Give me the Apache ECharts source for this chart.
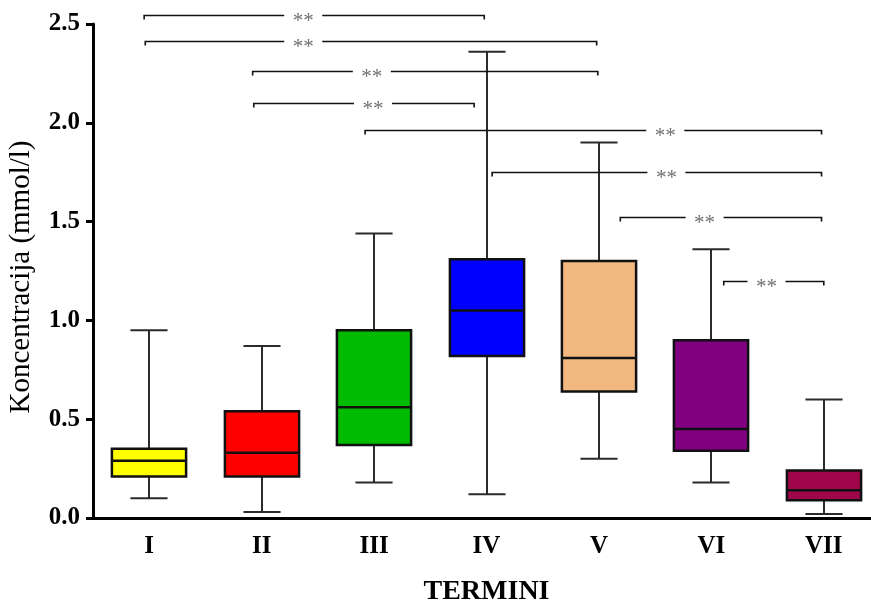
<!DOCTYPE html>
<html>
<head>
<meta charset="utf-8">
<script src="https://cdn.jsdelivr.net/npm/echarts@6/dist/echarts.min.js"></script>
<style>
  html, body { margin: 0; padding: 0; background: #fff; overflow: hidden; }
  #chart { width: 871px; height: 601px; }
</style>
</head>
<body>
<div id="chart"></div>
<script>
// Sampling periods
const termini = ['I', 'II', 'III', 'IV', 'V', 'VI', 'VII'];

// Five-number summaries per period (mmol/l)
const whiskerLow  = [0.10, 0.03, 0.18, 0.12, 0.30, 0.18, 0.02];
const quartile1   = [0.21, 0.21, 0.37, 0.82, 0.64, 0.34, 0.09];
const medians     = [0.29, 0.33, 0.56, 1.05, 0.81, 0.45, 0.14];
const quartile3   = [0.35, 0.54, 0.95, 1.31, 1.30, 0.90, 0.24];
const whiskerHigh = [0.95, 0.87, 1.44, 2.36, 1.90, 1.36, 0.60];

// Fill colour of each box
const boxColors = ['#ffff00', '#ff0000', '#00bb00', '#0000ff', '#f2b880', '#800080', '#a0064a'];

// Significance brackets: start / end position on the period axis (index units), bracket level, mark
const bracketStart = [-0.045, -0.035, 0.92, 0.93, 1.92, 3.05, 4.19, 5.11];
const bracketEnd   = [2.98, 3.98, 3.99, 2.89, 5.98, 5.98, 5.98, 6.00];
const bracketLevel = [2.547, 2.414, 2.262, 2.099, 1.965, 1.751, 1.525, 1.199];
const bracketMark  = ['**', '**', '**', '**', '**', '**', '**', '**'];
// where along each bracket the mark sits (index units)
const bracketMarkAt = [1.37, 1.37, 1.98, 1.99, 4.59, 4.60, 4.94, 5.49];

const boxData = termini.map((t, i) => [i, whiskerLow[i], quartile1[i], medians[i], quartile3[i], whiskerHigh[i]]);
const bracketData = bracketLevel.map((lv, i) => [bracketStart[i], bracketEnd[i], lv, bracketMarkAt[i]]);

const serif = '"Liberation Serif", "Times New Roman", serif';

function renderBox(params, api) {
  const i = api.value(0);
  const band = api.size([1, 0])[0];
  const boxW = band * 0.66;
  const capW = boxW * 0.5;
  const pLow = api.coord([i, api.value(1)]);
  const pQ1 = api.coord([i, api.value(2)]);
  const pMed = api.coord([i, api.value(3)]);
  const pQ3 = api.coord([i, api.value(4)]);
  const pHigh = api.coord([i, api.value(5)]);
  const cx = Math.round(pMed[0]);
  const wStyle = { stroke: '#2b2b2b', lineWidth: 2, fill: null };
  return {
    type: 'group',
    children: [
      { type: 'line', shape: { x1: cx, y1: pQ3[1], x2: cx, y2: pHigh[1] }, style: wStyle },
      { type: 'line', shape: { x1: cx, y1: pQ1[1], x2: cx, y2: pLow[1] }, style: wStyle },
      { type: 'line', shape: { x1: cx - capW / 2, y1: pHigh[1], x2: cx + capW / 2, y2: pHigh[1] }, style: wStyle },
      { type: 'line', shape: { x1: cx - capW / 2, y1: pLow[1], x2: cx + capW / 2, y2: pLow[1] }, style: wStyle },
      { type: 'rect', shape: { x: cx - boxW / 2, y: pQ3[1], width: boxW, height: pQ1[1] - pQ3[1] },
        style: { fill: boxColors[i], stroke: '#111', lineWidth: 2.5 } },
      { type: 'line', shape: { x1: cx - boxW / 2, y1: pMed[1], x2: cx + boxW / 2, y2: pMed[1] },
        style: { stroke: '#111', lineWidth: 2.5 } }
    ]
  };
}

function renderBracket(params, api) {
  const a = api.coord([api.value(0), api.value(2)]);
  const b = api.coord([api.value(1), api.value(2)]);
  const m = api.coord([api.value(3), api.value(2)]);
  const y = Math.round(a[1]) + 0.5;
  const gap = 19;
  const st = { stroke: '#111', lineWidth: 1.6, fill: null };
  return {
    type: 'group',
    children: [
      { type: 'polyline', shape: { points: [[a[0], y + 4], [a[0], y], [m[0] - gap, y]] }, style: st },
      { type: 'polyline', shape: { points: [[m[0] + gap, y], [b[0], y], [b[0], y + 4]] }, style: st },
      { type: 'text', x: m[0], y: y + 6,
        style: { text: bracketMark[params.dataIndex], fill: '#707070', font: '21px ' + serif,
                 align: 'center', verticalAlign: 'middle' } }
    ]
  };
}

const chart = echarts.init(document.getElementById('chart'), null, { renderer: 'canvas' });
chart.setOption({
  backgroundColor: '#fff',
  animation: false,
  grid: { left: 93, top: 24, bottom: 83, width: 787, outerBoundsMode: 'none', containLabel: false },
  xAxis: [
    {
      type: 'category',
      data: termini,
      boundaryGap: true,
      name: 'TERMINI',
      nameLocation: 'middle',
      nameGap: 60,
      nameTextStyle: { fontFamily: serif, fontWeight: 'bold', fontSize: 28, color: '#000' },
      axisLine: { lineStyle: { color: '#000', width: 3 } },
      axisTick: { alignWithLabel: true, length: 8, lineStyle: { color: '#000', width: 3 } },
      axisLabel: { margin: 16, fontFamily: serif, fontWeight: 'bold', fontSize: 25, color: '#000' },
      splitLine: { show: false }
    },
    {
      type: 'value', min: -0.5, max: 6.5, show: false, splitLine: { show: false }
    }
  ],
  yAxis: {
    type: 'value',
    min: 0, max: 2.5, interval: 0.5,
    name: 'Koncentracija (mmol/l)',
    nameLocation: 'middle',
    nameGap: 57,
    nameTextStyle: { fontFamily: serif, fontSize: 29, color: '#000', padding: [0, 12, 0, 0] },
    axisLine: { show: true, onZero: false, lineStyle: { color: '#000', width: 3 } },
    axisTick: { show: true, length: 7, lineStyle: { color: '#000', width: 3 } },
    axisLabel: {
      margin: 13, fontFamily: serif, fontWeight: 'bold', fontSize: 25, color: '#000',
      formatter: v => v.toFixed(1)
    },
    splitLine: { show: false }
  },
  series: [
    { type: 'custom', xAxisIndex: 0, data: boxData, renderItem: renderBox, z: 3 },
    { type: 'custom', xAxisIndex: 1, data: bracketData, renderItem: renderBracket, clip: false, z: 4,
      encode: { x: [0, 1, 3], y: 2 } }
  ]
});
</script>
</body>
</html>
